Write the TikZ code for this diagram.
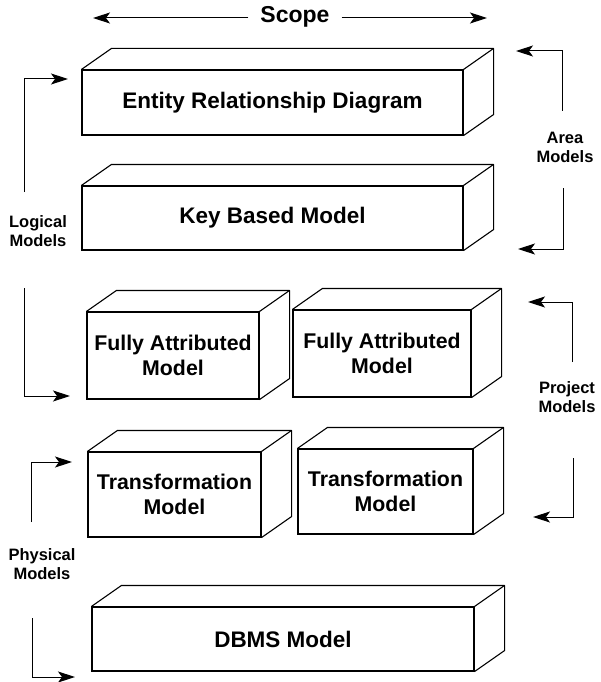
\documentclass[tikz,border=0pt]{standalone}
\usepackage{fontspec}
\setmainfont{Liberation Sans}
\usetikzlibrary{arrows.meta,calc}

\newcommand\boxfont{\bfseries\fontsize{22.5}{26}\selectfont}
\newcommand\pairfont{\bfseries\fontsize{21.3}{24.5}\selectfont}
\newcommand\sidefont{\bfseries\fontsize{16.5}{19}\selectfont}
\newcommand\scopefont{\bfseries\fontsize{23}{26}\selectfont}

\tikzset{
  cuboid/.style={draw, rectangle, inner sep=0pt, align=center,
                 line width=1.1pt, font=\boxfont},
  pair/.style={cuboid, font=\pairfont},
  sidelabel/.style={align=center, font=\sidefont, inner sep=0pt},
  arr/.style={line width=1pt, -{Stealth[length=17pt,width=11pt,inset=4pt]}},
  faces/.style={line width=1.1pt, line join=round}
}

% top and right faces of a block whose front face is node #1
\newcommand\depthfaces[1]{%
  \draw[faces] (#1.north west) -- ++(30,-21)
        -- ($(#1.north east)+(30,-21)$) coordinate (#1-btr)
        -- ($(#1.south east)+(30,-21)$) -- (#1.south east);
  \draw[faces] (#1.north east) -- (#1-btr);}

\begin{document}
\begin{tikzpicture}[x=1pt,y=-1pt]
\useasboundingbox (0,0) rectangle (601,682);

% blocks
\node[cuboid, minimum width=381pt, minimum height=65pt] (erd)  at (272.5,102.5) {Entity Relationship Diagram};
\node[cuboid, minimum width=381pt, minimum height=64pt] (kbm)  at (272.5,218)   {Key Based Model};
\node[pair, minimum width=172pt, minimum height=87pt] (fa1)  at (173,355.5)   {Fully Attributed\\Model};
\node[pair, minimum width=178pt, minimum height=87pt] (fa2)  at (382,353.5)   {Fully Attributed\\Model};
\node[pair, minimum width=173pt, minimum height=85pt] (tr1)  at (174.5,494.5) {Transformation\\Model};
\node[pair, minimum width=175pt, minimum height=85pt] (tr2)  at (385.5,491.5) {Transformation\\Model};
\node[cuboid, minimum width=382pt, minimum height=64pt] (dbms) at (283,639)     {DBMS Model};
\foreach \b in {erd,kbm,fa1,fa2,tr1,tr2,dbms} {\depthfaces{\b}}

% scope
\node[font=\scopefont, inner xsep=12pt, inner ysep=0pt] (scope) at (295,17) {Scope};
\coordinate (scopeL) at (93,18);
\coordinate (scopeR) at (487,18);
\draw[arr] (scope.west |- scopeL) -- (scopeL);
\draw[arr] (scope.east |- scopeR) -- (scopeR);

% side labels
\node[sidelabel] (logical)  at (38,231)  {Logical\\Models};
\node[sidelabel] (physical) at (42,564)  {Physical\\Models};
\node[sidelabel] (area)     at (565,147) {Area\\Models};
\node[sidelabel] (project)  at (567,397) {Project\\Models};

% bracket arrows
\coordinate (lgS1) at (24,192);  \coordinate (lgT1) at (68,79);
\coordinate (lgS2) at (24,288);  \coordinate (lgT2) at (70,396);
\coordinate (arS1) at (562,111); \coordinate (arT1) at (516,51);
\coordinate (arS2) at (563,188); \coordinate (arT2) at (518,249);
\coordinate (prS1) at (572,362); \coordinate (prT1) at (528,302);
\coordinate (prS2) at (573,458); \coordinate (prT2) at (533,517);
\coordinate (phS1) at (31,522);  \coordinate (phT1) at (72,462);
\coordinate (phS2) at (32,618);  \coordinate (phT2) at (75,677);

\draw[arr] (lgS1) |- (lgT1);
\draw[arr] (lgS2) |- (lgT2);
\draw[arr] (arS1) |- (arT1);
\draw[arr] (arS2) |- (arT2);
\draw[arr] (prS1) |- (prT1);
\draw[arr] (prS2) |- (prT2);
\draw[arr] (phS1) |- (phT1);
\draw[arr] (phS2) |- (phT2);
\end{tikzpicture}
\end{document}
